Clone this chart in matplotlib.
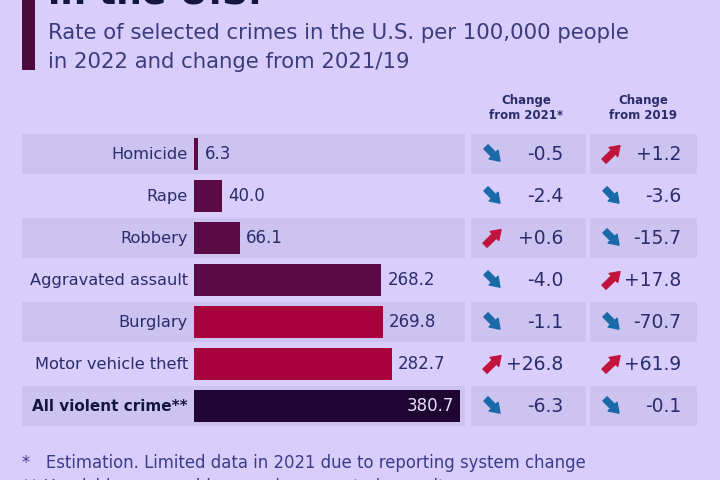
import numpy as np
import matplotlib.pyplot as plt
from matplotlib.patches import Rectangle

plt.close("all")

crimes = ["Homicide", "Rape", "Robbery", "Aggravated assault",
          "Burglary", "Motor vehicle theft", "All violent crime**"]
rate_2022 = [6.3, 40.0, 66.1, 268.2, 269.8, 282.7, 380.7]
chg_2021 = [-0.5, -2.4, 0.6, -4.0, -1.1, 26.8, -6.3]
chg_2019 = [1.2, -3.6, -15.7, 17.8, -70.7, 61.9, -0.1]

bg = "#d9cefb"
band = "#cdc3f1"
txt = "#2a2c6c"
bar_cols = ["#5a0a44"] * 4 + ["#a8023c"] * 2 + ["#1e0532"]
up_col = "#c0143c"
down_col = "#1a6aa8"

# pixel layout helpers (figure is 720x480 px)
k = 266 / 380.7          # px per unit
x0 = 194                 # px where bars start
y0, dy = 154, 42         # first row center, row spacing


def X(px):
    return (px - x0) / k


fig = plt.figure(figsize=(7.2, 4.8), dpi=100, facecolor=bg)
ax = fig.add_axes([0, 0, 1, 1])
ax.set_facecolor(bg)
ax.set_xlim(X(0), X(720))
ax.set_ylim((480 - y0) / dy, -y0 / dy)
ax.axis("off")

n = len(crimes)
rows = np.arange(n)

# row bands
for i in rows[::2]:
    for a, b in [(22, 465), (471, 586), (590, 697)]:
        ax.add_patch(Rectangle((X(a), i - 0.48), X(b) - X(a), 0.96,
                               color=band, lw=0, zorder=0))

ax.barh(rows, rate_2022, height=0.74, color=bar_cols, zorder=2)

for i, (name, v) in enumerate(zip(crimes, rate_2022)):
    bold = i == n - 1
    ax.text(X(188), i, name, ha="right", va="center",
            fontsize=11 if bold else 11.7,
            color="#15163f" if bold else txt,
            fontweight="bold" if bold else "normal")
    if bold:
        ax.text(v - 6 / k, i, f"{v:.1f}", ha="right", va="center",
                fontsize=12, color="#e8e0ff")
    else:
        ax.text(v + 6 / k, i, f"{v:.1f}", ha="left", va="center",
                fontsize=12, color=txt)

for vals, ax_px, num_px in [(chg_2021, 493, 563), (chg_2019, 612, 681)]:
    for i, v in enumerate(vals):
        up = v > 0
        if up:
            start, end = (X(ax_px - 8), i + 0.17), (X(ax_px + 8), i - 0.2)
        else:
            start, end = (X(ax_px - 7), i - 0.17), (X(ax_px + 7), i + 0.17)
        ax.annotate("", xy=end, xytext=start, zorder=3,
                    arrowprops=dict(arrowstyle="simple,head_length=0.55,"
                                    "head_width=0.75,tail_width=0.35",
                                    color=up_col if up else down_col,
                                    mutation_scale=12, shrinkA=0, shrinkB=0))
        ax.text(X(num_px), i, f"{v:+.1f}" if up else f"{v:.1f}",
                ha="right", va="center", fontsize=13.5, color=txt)

ax.text(X(526), -1.1, "Change\nfrom 2021*", ha="center", va="center",
        fontsize=8.5, color=txt, fontweight="bold", linespacing=1.15)
ax.text(X(643), -1.1, "Change\nfrom 2019", ha="center", va="center",
        fontsize=8.5, color=txt, fontweight="bold", linespacing=1.15)

# header
fig.add_artist(Rectangle((22 / 720, 1 - 70 / 480), 13 / 720, 72 / 480,
                         transform=fig.transFigure, color="#4c0a3c", lw=0))
fig.text(48 / 720, 1 + 6 / 480, "in the U.S.", ha="left", va="center",
         fontsize=26, fontweight="bold", color="#15163f")
fig.text(48 / 720, 1 - 33 / 480, "Rate of selected crimes in the U.S. per 100,000 people",
         ha="left", va="center", fontsize=15.3, color="#3a3c7c")
fig.text(48 / 720, 1 - 62 / 480, "in 2022 and change from 2021/19",
         ha="left", va="center", fontsize=15.3, color="#3a3c7c")

# footnotes
fig.text(22 / 720, 1 - 463 / 480,
         "*   Estimation. Limited data in 2021 due to reporting system change",
         ha="left", va="center", fontsize=11.9, color="#3a3c8a")
fig.text(22 / 720, 1 - 487 / 480,
         "** Homicide, rape, robbery and aggravated assault",
         ha="left", va="center", fontsize=11.9, color="#3a3c8a")

fig.savefig("out.png", dpi=100, facecolor=bg)
